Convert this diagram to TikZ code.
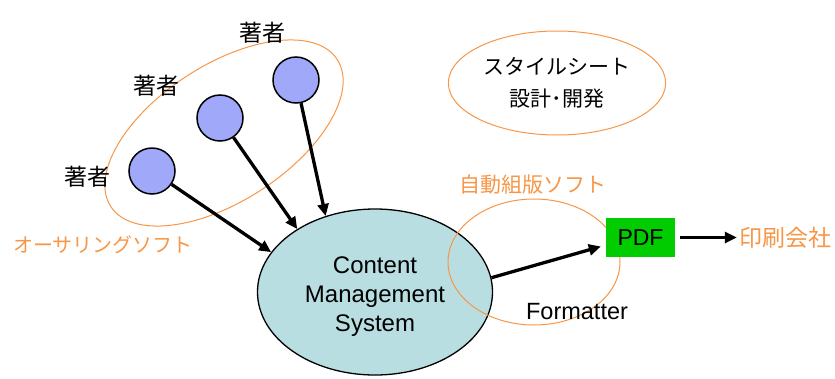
\documentclass[tikz,border=0pt]{standalone}
\usepackage{fontspec}
\setmainfont{Liberation Sans}
\newfontfamily\jp{Noto Sans CJK JP}
\usetikzlibrary{arrows.meta,shapes.geometric,positioning}
\definecolor{sorange}{RGB}{247,150,70}
\definecolor{lavender}{RGB}{160,168,250}
\definecolor{cmsblue}{RGB}{184,222,226}
\definecolor{pdfgreen}{RGB}{0,204,0}

\begin{document}
\begin{tikzpicture}[x=1pt,y=-1pt,>={Triangle[length=12pt,width=11pt]},
  author/.style={circle,draw,line width=1.5pt,fill=lavender,minimum size=46pt,inner sep=0},
  flow/.style={->,line width=3.3pt},
  group/.style={draw=sorange,line width=1pt}]
\useasboundingbox (0,0) rectangle (835,378);
\node[ellipse,draw,line width=1.3pt,fill=cmsblue,minimum width=235pt,minimum height=166pt,
  label={[align=center,yshift=-5pt,font=\fontsize{24}{29}\selectfont]center:{Content\\Management\\System}}]
  (cms) at (375,292) {};
\draw[group,rotate around={33:(224,133)}] (224,133) ellipse (135 and 68);
\draw[group] (534,262) ellipse (86 and 63);
\foreach \n/\x/\y in {1/152/171,2/220/118,3/296/80}
  \node[author] (a\n) at (\x,\y) {};
\foreach \n/\x/\y in {1/87/177,2/156/86,3/262/33}
  \node[font=\jp\fontsize{23}{28}\selectfont] (l\n) at (\x,\y) {著者};
\node[text=sorange,font=\jp\fontsize{20}{24}\selectfont] (authoring) at (103,245) {オーサリングソフト};
\draw[flow] (a1) -- (cms.159);
\draw[flow] (a2) -- (cms.141);
\draw[flow] (a3) -- (cms.123);
\node[ellipse,group,minimum width=174pt,minimum height=104pt,align=center,
  font=\jp\fontsize{21}{32}\selectfont] (style) at (557,83) {スタイルシート\\設計･開発};
\node[text=sorange,font=\jp\fontsize{21}{25}\selectfont] (typeset) at (533,185) {自動組版ソフト};
\node[fill=pdfgreen,minimum width=69pt,minimum height=39pt,inner sep=0,
  font=\fontsize{23}{27}\selectfont] (pdf) at (640.5,237.5) {PDF};
\node[text=sorange,inner sep=0,font=\jp\fontsize{23}{28}\selectfont] (print) at (785,237.5) {印刷会社};
\node[font=\fontsize{23.5}{28}\selectfont] (fmt) at (577,312) {Formatter};
\draw[flow] (cms.7) -- ([xshift=-5pt,yshift=-9pt]pdf.west);
\draw[flow,line width=3pt,shorten <=5pt,shorten >=2pt] (pdf.east) -- (print.west);
\end{tikzpicture}
\end{document}
